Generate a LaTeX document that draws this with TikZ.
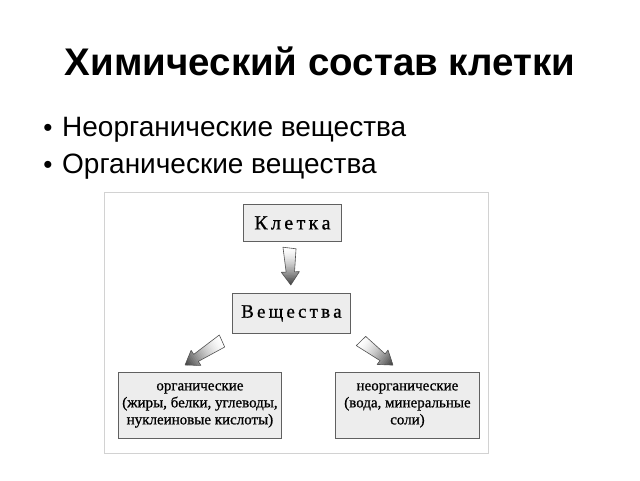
\documentclass[tikz,border=0pt]{standalone}
\usepackage{fontspec}
\setmainfont{Liberation Serif}[FakeBold=0.8]
\newfontfamily\sansf{Liberation Sans}
\newcommand\fatarrow[4]{% tail x, tail y, angle, length
  \begin{scope}[shift={(#1,#2)}, rotate=#3]
    \begin{scope}
      \clip (-1,6.5) -- (#4-13,4.2) -- (#4-13,9) -- (#4,0) -- (#4-13,-9) -- (#4-13,-4.2) -- (1,-6.5) -- cycle;
      \foreach \i in {0,...,23}{
        \pgfmathsetmacro\pc{72*(\i/23)^1.6}
        \fill[black!\pc!white] ({(\i*#4+\i)/24-1.5},-12) rectangle ({((\i+1)*#4+\i+1)/24-0.8},12);
      }
    \end{scope}
    \draw[arrowline] (-1,6.5) -- (#4-13,4.2) -- (#4-13,9) -- (#4,0) -- (#4-13,-9) -- (#4-13,-4.2) -- (1,-6.5) -- cycle;
  \end{scope}}
\begin{document}
\begin{tikzpicture}[x=1pt,y=-1pt,
  box/.style={draw=gray!75!black, line width=0.9pt, fill=gray!14, inner sep=0pt, anchor=north west},
  arrowline/.style={draw=gray!65!black, line width=0.6pt, line join=round},
  boxtext/.style={text=black}
]
\useasboundingbox (0,0) rectangle (640,480);
\fill[white] (0,0) rectangle (640,480);
% title and bullets
\node[font=\sansf\bfseries\fontsize{38.5}{44}\selectfont] (title) at (320,61) {Химический состав клетки};
\node[font=\sansf\fontsize{28}{32}\selectfont, anchor=west, inner sep=0pt] (b1) at (62,130) {Неорганические вещества};
\node[font=\sansf\fontsize{28}{32}\selectfont, anchor=west, inner sep=0pt] (b2) at (62,167) {Органические вещества};
\node[font=\sansf\fontsize{26}{30}\selectfont] (d1) at (48,130) {•};
\node[font=\sansf\fontsize{26}{30}\selectfont] (d2) at (48,167) {•};
% frame
\draw[gray!35, line width=1pt] (104,192) rectangle (488,453);
% boxes
\node[box, minimum width=98pt, minimum height=37pt] (cell) at (243,204) {};
\node[boxtext, font=\fontsize{20}{22}\selectfont] (cellt) at (cell.center) {К\,л\,е\,т\,к\,а};
\node[box, minimum width=118pt, minimum height=40pt] (subst) at (232,293) {};
\node[boxtext, font=\fontsize{19}{22}\selectfont] (substt) at (subst.center) {В\,е\,щ\,е\,с\,т\,в\,а};
\node[box, minimum width=163pt, minimum height=66pt] (org) at (118,372) {};
\node[boxtext, font=\fontsize{15}{17}\selectfont, align=center] (orgt) at (org.center) {органические\\(жиры, белки, углеводы,\\нуклеиновые кислоты)};
\node[box, minimum width=144pt, minimum height=66pt] (inorg) at (335,372) {};
\node[boxtext, font=\fontsize{15}{17}\selectfont, align=center] (inorgt) at (inorg.center) {неорганические\\(вода, минеральные\\соли)};
% arrows
\fatarrow{289.5}{248}{-88}{37}
\fatarrow{222}{341}{213}{44}
\fatarrow{361}{341}{-37}{40}
\end{tikzpicture}
\end{document}
